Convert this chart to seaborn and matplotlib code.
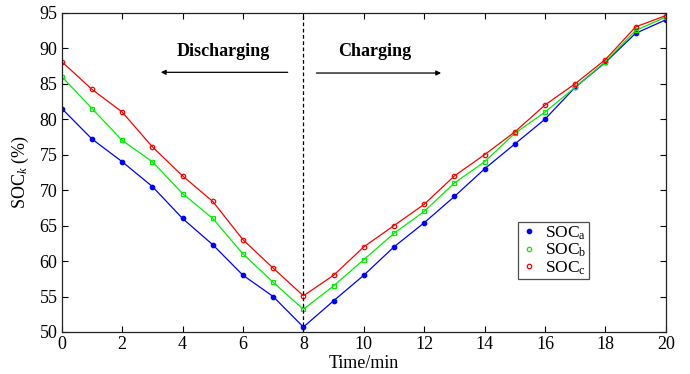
import numpy as np
import pandas as pd
import matplotlib
matplotlib.use("Agg")
import matplotlib.pyplot as plt
from matplotlib.lines import Line2D
import seaborn as sns

# Time axis (min) and state of charge of the three cells (%)
time_min = list(range(0, 21))
soc_a = [81.5, 77.2, 74.0, 70.5, 66.0, 62.3, 58.0, 55.0, 50.7, 54.4, 58.0,
         62.0, 65.4, 69.1, 73.0, 76.5, 80.0, 84.5, 88.0, 92.1, 94.0]
soc_b = [86.0, 81.5, 77.0, 74.0, 69.5, 66.0, 61.0, 57.0, 53.2, 56.5, 60.2,
         63.9, 67.0, 71.0, 74.0, 78.0, 81.0, 84.5, 88.1, 92.5, 94.4]
soc_c = [88.1, 84.2, 81.0, 76.1, 72.0, 68.4, 63.0, 59.0, 55.1, 58.0, 62.0,
         65.0, 68.0, 72.0, 75.0, 78.2, 82.0, 85.0, 88.4, 93.0, 94.6]
series_labels = ["SOC$_\\mathrm{a}$", "SOC$_\\mathrm{b}$", "SOC$_\\mathrm{c}$"]
series_colors = ["#0000ff", "#00ee00", "#ff0000"]
series_markers = ["o", "s", "o"]
series_fill = ["#0000ff", "none", "none"]
x_ticks = list(range(0, 21, 2))
y_ticks = list(range(50, 96, 5))
switch_time = 8

sns.set_style("ticks")
plt.rcParams["font.family"] = ["Liberation Serif", "DejaVu Serif"]
plt.rcParams["mathtext.fontset"] = "custom"
plt.rcParams["mathtext.rm"] = "Liberation Serif"
plt.rcParams["mathtext.it"] = "Liberation Serif:italic"
plt.rcParams["mathtext.bf"] = "Liberation Serif:bold"
for key in ["text.color", "axes.labelcolor", "xtick.color", "ytick.color",
            "axes.edgecolor"]:
    plt.rcParams[key] = "black"

df = pd.DataFrame({
    "t": time_min * 3,
    "soc": soc_a + soc_b + soc_c,
    "cell": sum([[lab] * len(time_min) for lab in series_labels], []),
})

fig = plt.figure(figsize=(6.9, 3.74), dpi=100)
ax = fig.add_axes([0.0895, 0.1123, 0.8755, 0.8537])

for lab, col, mk, fc in zip(series_labels, series_colors, series_markers, series_fill):
    sub = df[df["cell"] == lab]
    sns.lineplot(data=sub, x="t", y="soc", ax=ax, color=col, linewidth=0.9,
                 marker=mk, markersize=3.2, markerfacecolor=fc,
                 markeredgecolor=col, markeredgewidth=0.9, legend=False)

ax.axvline(switch_time, color="black", linestyle=(0, (3, 2)), linewidth=0.9)

ax.set_xlim(0, 20)
ax.set_ylim(50, 95)
ax.set_xticks(x_ticks)
ax.set_yticks(y_ticks)
ax.tick_params(direction="in", top=True, right=True, length=4, width=0.8,
               labelsize=13, pad=3)
for s in ax.spines.values():
    s.set_linewidth(0.9)
    s.set_color("#222222")

ax.set_xlabel("Time/min", fontsize=13, labelpad=1)
ax.set_ylabel("SOC$_k$ (%)", fontsize=13, labelpad=6)

# Process annotations
ax.text(5.35, 89.6, "Discharging", fontsize=13, fontweight="bold",
        ha="center", va="center")
ax.text(10.35, 89.6, "Charging", fontsize=13, fontweight="bold",
        ha="center", va="center")
ax.annotate("", xy=(3.28, 86.6), xytext=(7.48, 86.6),
            arrowprops=dict(arrowstyle="-|>", color="black", lw=0.9,
                            mutation_scale=7, shrinkA=0, shrinkB=0))
ax.annotate("", xy=(12.56, 86.5), xytext=(8.43, 86.5),
            arrowprops=dict(arrowstyle="-|>", color="black", lw=0.9,
                            mutation_scale=7, shrinkA=0, shrinkB=0))

handles = [Line2D([], [], linestyle="none", marker="o", markersize=3.2,
                  color=c, markerfacecolor=f, markeredgewidth=0.9)
           for c, f in zip(series_colors, ["#0000ff", "none", "none"])]
leg = ax.legend(handles, series_labels, loc="upper left",
                bbox_to_anchor=(0.755, 0.345), fontsize=12.5, frameon=True,
                fancybox=False, edgecolor="#222222", handlelength=1.0,
                handletextpad=0.4, labelspacing=0.0, borderpad=0.15,
                borderaxespad=0)
leg.get_frame().set_linewidth(0.9)

fig.savefig("out.png", dpi=100)
